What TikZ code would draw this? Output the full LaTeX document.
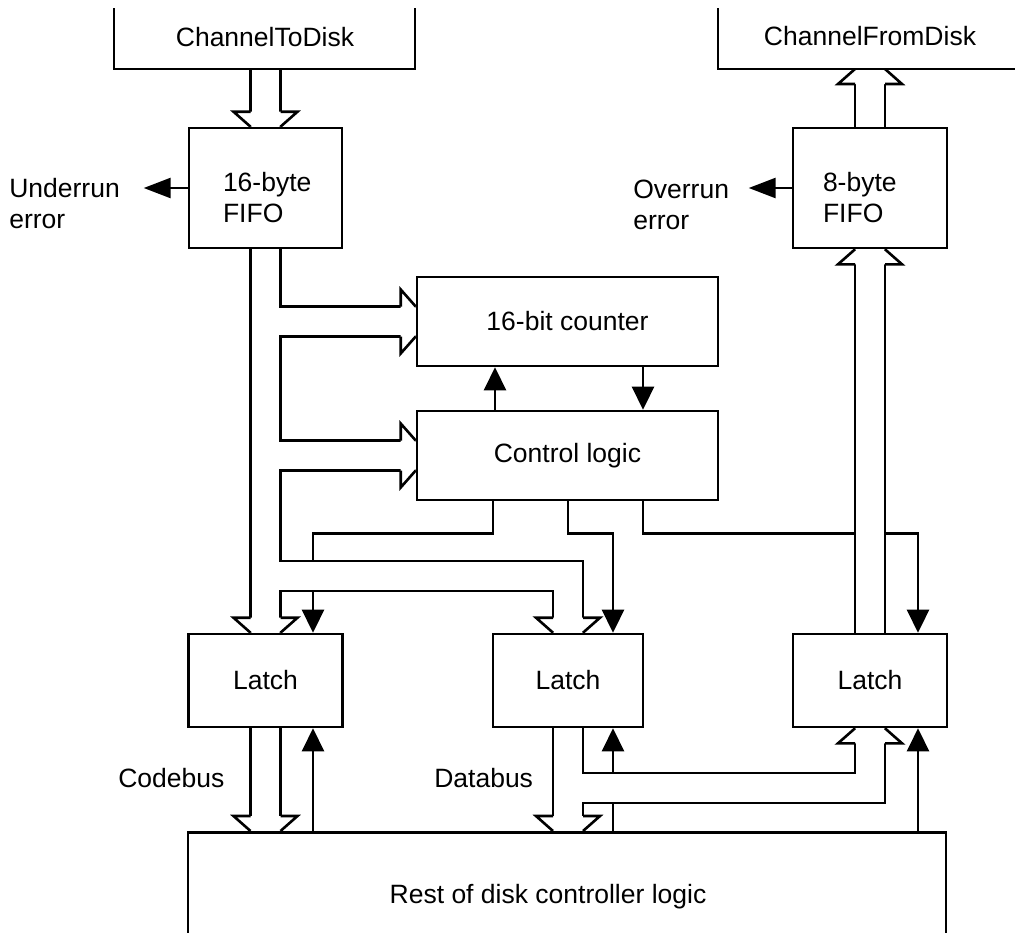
\documentclass[tikz,border=0pt]{standalone}
\usepackage{fontspec}
\setmainfont{Liberation Sans}
\usetikzlibrary{arrows.meta,positioning,calc,backgrounds}

\begin{document}
\begin{tikzpicture}[
  x=1pt, y=-1pt,
  line width=2.6pt, line join=miter,
  font=\fontsize{26.5}{31}\selectfont,
  box/.style={rectangle,draw=black,inner sep=0pt},
  lbl/.style={inner sep=0pt,align=left},
  sig/.style={-{Triangle[length=23pt,width=22pt]}},
  err/.style={-{Triangle[length=27pt,width=20pt]}},
  busout/.style={line width=32.6pt,draw=black},
  busin/.style={line width=27.4pt,draw=white},
  buscap/.pic={
    \fill[white] (-32,-15) -- (32,-15) -- (15,0) -- (-15,0) -- cycle;
    \draw (-15,-15) -- (-32,-15) -- (-15,0) (15,-15) -- (32,-15) -- (15,0);
  }
]
\useasboundingbox (0,0) rectangle (1015,932);
\clip (0,0) rectangle (1015,932);

% blocks
\node[box,minimum width=153,minimum height=120] (fifoA) at (265.5,188) {};
\node[box,minimum width=154,minimum height=120] (fifoB) at (870,188) {};
\node[box,minimum width=301,minimum height=89] (counter) at (567.5,321.5) {16-bit counter};
\node[box,minimum width=301,minimum height=89] (ctl) at (567.5,455.5) {Control logic};
\node[box,minimum width=154,minimum height=93] (latA) at (265.5,680.5) {Latch};
\node[box,minimum width=150,minimum height=93] (latB) at (568,680.5) {Latch};
\node[box,minimum width=154,minimum height=93] (latC) at (870,680.5) {Latch};
\node[box,minimum width=758,minimum height=200,anchor=north] (rest) at (567,831) {};

% open channel boxes
\draw (114,8) |- (415,69) -- (415,8);
\draw (718,8) |- (1015,69);
\coordinate (ctdBot) at (265.5,69);
\coordinate (cfdBot) at (870,69);

% texts
\node (ctd) at (265,37) {ChannelToDisk};
\node (cfd) at (870,36) {ChannelFromDisk};
\node[lbl,anchor=west] (fifoAtxt) at ($(fifoA.west)+(34,10)$) {16-byte\\FIFO};
\node[lbl,anchor=west] (fifoBtxt) at ($(fifoB.west)+(30,10)$) {8-byte\\FIFO};
\node[lbl,anchor=west] (under) at (8,204) {Underrun\\error};
\node[lbl,anchor=west] (over) at (632,205) {Overrun\\error};
\node[lbl,anchor=west] (codebus) at (117,778) {Codebus};
\node[lbl,anchor=west] (databus) at (433,778) {Databus};
\node (resttxt) at ($(rest.north)+(-19,66)$) {Rest of disk controller logic};

\begin{pgfonlayer}{background}
\begin{scope}[line width=2.6pt, line join=miter]
% control lines
\draw[err] (fifoA.west) -- ++(-44,0);
\draw[err] (fifoB.west) -- ++(-43,0);
\draw[sig] (ctl.north -| 495,0) -- (counter.south -| 495,0);
\draw[sig] (counter.south -| 643,0) -- (ctl.north -| 643,0);
\draw[sig] (ctl.south -| 493,0) -- ++(0,32) -| (latA.north -| 313,0);
\draw[sig] (ctl.south -| 568,0) -- ++(0,32) -| (latB.north -| 613,0);
\draw[sig] (ctl.south -| 643,0) -- ++(0,32) -| (latC.north -| 918,0);
\draw[sig] (rest.north -| 313,0) -- (latA.south -| 313,0);
\draw[sig] (rest.north -| 613,0) -- (latB.south -| 613,0);
\draw[sig] (rest.north -| 918,0) -- (latC.south -| 918,0);

% buses: outline pass, then inside pass
\foreach \pass in {busout,busin} {
  \draw[\pass] (ctdBot) -- (fifoA.north);
  \draw[\pass] (fifoA.south) -- (latA.north);
  \draw[\pass] (fifoA.south |- counter.west) -- (counter.west);
  \draw[\pass] (fifoA.south |- ctl.west) -- (ctl.west);
  \draw[\pass] (fifoA.south |- 0,576) -| (latB.north);
  \draw[\pass] (latA.south) -- (latA.south |- rest.north);
  \draw[\pass] (latB.south) -- (latB.south |- rest.north);
  \draw[\pass] (latB.south |- 0,788) -| (latC.south);
  \draw[\pass] (latC.north) -- (fifoB.south);
  \draw[\pass] (fifoB.north) -- (cfdBot);
}

% bus heads
\pic at (fifoA.north) {buscap};
\pic[rotate=90] at (counter.west) {buscap};
\pic[rotate=90] at (ctl.west) {buscap};
\pic at (latA.north) {buscap};
\pic at (latB.north) {buscap};
\pic[rotate=180] at (fifoB.south) {buscap};
\pic[rotate=180] at (cfdBot) {buscap};
\pic at (latA.south |- rest.north) {buscap};
\pic at (latB.south |- rest.north) {buscap};
\pic[rotate=180] at (latC.south) {buscap};
\end{scope}
\end{pgfonlayer}
\end{tikzpicture}
\end{document}
